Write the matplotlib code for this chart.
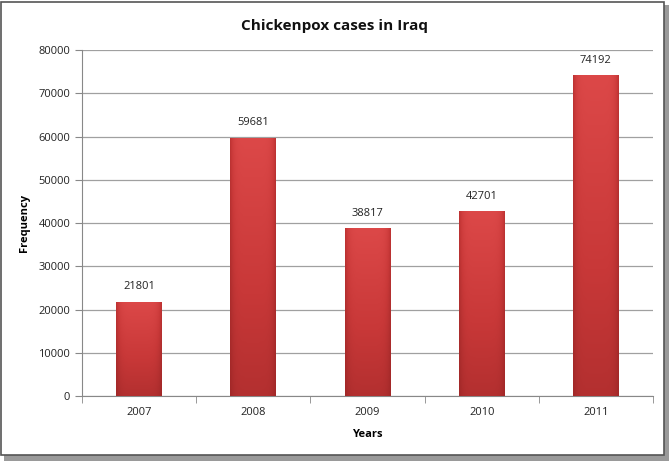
import numpy as np
import matplotlib.pyplot as plt
from matplotlib.colors import LinearSegmentedColormap
from matplotlib.patches import Rectangle

years = ['2007', '2008', '2009', '2010', '2011']
cases = [21801, 59681, 38817, 42701, 74192]

plt.rcParams['font.family'] = ['Open Sans', 'DejaVu Sans']

fig = plt.figure(figsize=(6.69, 4.61), dpi=100)
ax = fig.add_axes([0.1226, 0.141, 0.8535, 0.7505])

x = np.arange(len(years))
bars = ax.bar(x, cases, width=0.4, color='#c43535', zorder=2)

# shaded look for the bars: lighter top, darker bottom and edges
cmap = LinearSegmentedColormap.from_list('barshade', ['#8e1e1e', '#a82b2b', '#c83838', '#dc4848'])
for b in bars:
    bx, by = b.get_x(), b.get_y()
    bw, bh = b.get_width(), b.get_height()
    vert = np.linspace(1, 0.45, 128)[:, None]
    u = np.linspace(-1, 1, 64)[None, :]
    side = 1 - 0.45 * np.abs(u) ** 6
    img = vert * side
    im = ax.imshow(img, extent=[bx, bx + bw, by, by + bh], aspect='auto', cmap=cmap,
                   vmin=0, vmax=1, zorder=3, origin='upper', interpolation='bilinear')
    im.set_clip_path(b)
    ax.text(bx + bw / 2, bh + 2200, str(int(round(bh))),
            ha='center', va='bottom', fontsize=8, color='#222222', zorder=4)

ax.set_xlim(-0.5, len(years) - 0.5)
ax.set_ylim(0, 80000)
ax.set_yticks(np.arange(0, 80001, 10000))
ax.set_xticks(x)
ax.set_xticklabels(years)
ax.set_xticks(np.arange(-0.5, len(years)), minor=True)
ax.tick_params(axis='x', which='major', length=0, labelsize=8, pad=8, colors='#222222')
ax.tick_params(axis='x', which='minor', length=5, color='#888888')
ax.tick_params(axis='y', length=5, color='#888888', labelsize=8, labelcolor='#222222')
ax.yaxis.grid(True, color='#a0a0a0', linewidth=0.9, zorder=0)
ax.set_axisbelow(True)
for s in ['top', 'right']:
    ax.spines[s].set_visible(False)
for s in ['left', 'bottom']:
    ax.spines[s].set_color('#888888')

fig.text(0.5, 0.944, 'Chickenpox cases in Iraq', ha='center', va='center',
         fontsize=11, fontweight='bold', color='#111111')
ax.set_xlabel('Years', fontsize=8, fontweight='bold', labelpad=8)
ax.set_ylabel('Frequency', fontsize=8, fontweight='bold', labelpad=6)

# chart frame with shadow
fig.patches.append(Rectangle((0.006, 0.0), 0.994, 0.99, transform=fig.transFigure,
                             facecolor='#9a9a9a', edgecolor='none', zorder=-2))
fig.patches.append(Rectangle((0.002, 0.012), 0.99, 0.984, transform=fig.transFigure,
                             facecolor='white', edgecolor='#555555', linewidth=1.2, zorder=-1))

fig.savefig('out.png', dpi=100)
